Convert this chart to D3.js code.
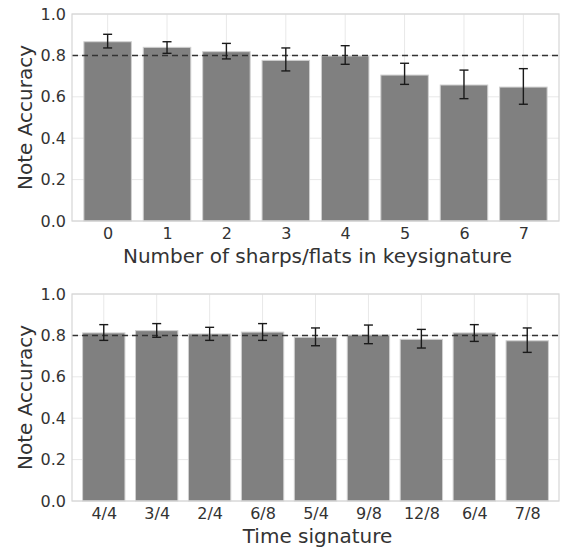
<!DOCTYPE html>
<html>
<head>
<meta charset="utf-8">
<script src="https://cdn.jsdelivr.net/npm/d3@7"></script>
<style>
  body { margin: 0; background: #fff; }
  svg { display: block; font-family: "DejaVu Sans", sans-serif; }
</style>
</head>
<body>
<svg id="chart" width="565" height="547"></svg>
<script>
// key signature panel
var keyCategories = ["0", "1", "2", "3", "4", "5", "6", "7"];
var keyAccuracy   = [0.866, 0.839, 0.818, 0.776, 0.797, 0.705, 0.657, 0.647];
var keyErrLow     = [0.836, 0.810, 0.783, 0.725, 0.757, 0.660, 0.591, 0.564];
var keyErrHigh    = [0.902, 0.866, 0.858, 0.836, 0.847, 0.762, 0.729, 0.736];

// time signature panel
var timeCategories = ["4/4", "3/4", "2/4", "6/8", "5/4", "9/8", "12/8", "6/4", "7/8"];
var timeAccuracy   = [0.812, 0.823, 0.807, 0.816, 0.791, 0.802, 0.781, 0.812, 0.774];
var timeErrLow     = [0.776, 0.791, 0.776, 0.776, 0.750, 0.760, 0.739, 0.771, 0.718];
var timeErrHigh    = [0.852, 0.857, 0.839, 0.857, 0.836, 0.850, 0.829, 0.852, 0.836];

var yTicks = [0.0, 0.2, 0.4, 0.6, 0.8, 1.0];
var referenceLine = 0.8;

var palette = {
    bar: "#808080",
    barEdge: "#d0d0d0",
    grid: "#e8e8e8",
    spine: "#d6d6d6",
    text: "#333333",
    err: "#1a1a1a",
    ref: "#333333"
};

var svg = d3.select("#chart");
var left = 72, right = 559;

function drawPanel(cats, vals, lo, hi, top, bottom, xlabel) {
    var n = cats.length;
    var x = d3.scaleLinear().domain([-0.6, n - 0.4]).range([left, right]);
    var y = d3.scaleLinear().domain([0, 1]).range([bottom, top]);
    var barW = x(0.8) - x(0);
    var g = svg.append("g");

    // grid
    g.selectAll(".hgrid").data(yTicks).enter().append("line")
        .attr("x1", left).attr("x2", right)
        .attr("y1", d => y(d)).attr("y2", d => y(d))
        .attr("stroke", palette.grid).attr("stroke-width", 1);
    g.selectAll(".vgrid").data(cats).enter().append("line")
        .attr("x1", (d, i) => x(i)).attr("x2", (d, i) => x(i))
        .attr("y1", top).attr("y2", bottom)
        .attr("stroke", palette.grid).attr("stroke-width", 1);

    // bars
    g.selectAll(".bar").data(vals).enter().append("rect")
        .attr("x", (d, i) => x(i) - barW / 2)
        .attr("width", barW)
        .attr("y", d => y(d))
        .attr("height", d => bottom - y(d))
        .attr("fill", palette.bar)
        .attr("stroke", palette.barEdge)
        .attr("stroke-width", 1);

    // reference line
    g.append("line")
        .attr("x1", left).attr("x2", right)
        .attr("y1", y(referenceLine)).attr("y2", y(referenceLine))
        .attr("stroke", palette.ref).attr("stroke-width", 1.5)
        .attr("stroke-dasharray", "6,4");

    // error bars
    var cap = 4.5;
    var errs = g.selectAll(".err").data(cats).enter().append("g")
        .attr("stroke", palette.err).attr("stroke-width", 1.4);
    errs.append("line")
        .attr("x1", (d, i) => x(i)).attr("x2", (d, i) => x(i))
        .attr("y1", (d, i) => y(lo[i])).attr("y2", (d, i) => y(hi[i]));
    errs.append("line")
        .attr("x1", (d, i) => x(i) - cap).attr("x2", (d, i) => x(i) + cap)
        .attr("y1", (d, i) => y(lo[i])).attr("y2", (d, i) => y(lo[i]));
    errs.append("line")
        .attr("x1", (d, i) => x(i) - cap).attr("x2", (d, i) => x(i) + cap)
        .attr("y1", (d, i) => y(hi[i])).attr("y2", (d, i) => y(hi[i]));

    // frame
    g.append("rect")
        .attr("x", left).attr("y", top)
        .attr("width", right - left).attr("height", bottom - top)
        .attr("fill", "none").attr("stroke", palette.spine).attr("stroke-width", 1.2);

    // y axis
    var yAxis = g.append("g")
        .attr("transform", `translate(${left},0)`)
        .call(d3.axisLeft(y).tickValues(yTicks).tickFormat(d3.format(".1f")).tickSize(0).tickPadding(6));
    yAxis.select(".domain").remove();
    yAxis.selectAll("text")
        .attr("fill", palette.text)
        .style("font-size", "16px")
        .style("font-family", "DejaVu Sans");

    // x axis
    var xAxis = g.append("g")
        .attr("transform", `translate(0,${bottom})`)
        .call(d3.axisBottom(x).tickValues(d3.range(n)).tickFormat(i => cats[i]).tickSize(0).tickPadding(7));
    xAxis.select(".domain").remove();
    xAxis.selectAll("text")
        .attr("fill", palette.text)
        .style("font-size", "16px")
        .style("font-family", "DejaVu Sans");

    // labels
    g.append("text")
        .attr("x", (left + right) / 2 + 2)
        .attr("y", bottom + 42)
        .attr("text-anchor", "middle")
        .attr("fill", palette.text)
        .style("font-size", "20px")
        .text(xlabel);
    g.append("text")
        .attr("transform", `translate(32,${(top + bottom) / 2}) rotate(-90)`)
        .attr("text-anchor", "middle")
        .attr("fill", palette.text)
        .style("font-size", "20px")
        .text("Note Accuracy");
}

drawPanel(keyCategories, keyAccuracy, keyErrLow, keyErrHigh, 14, 221, "Number of sharps/flats in keysignature");
drawPanel(timeCategories, timeAccuracy, timeErrLow, timeErrHigh, 294, 501, "Time signature");
</script>
</body>
</html>
